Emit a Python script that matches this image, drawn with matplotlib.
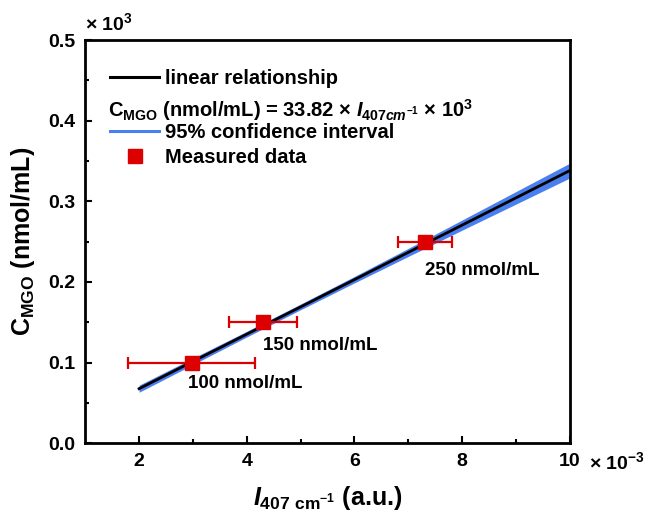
import numpy as np
import matplotlib.pyplot as plt
from matplotlib.lines import Line2D

plt.rcParams['font.family'] = ['Liberation Sans', 'DejaVu Sans']
plt.rcParams['font.weight'] = 'bold'
plt.rcParams['mathtext.fontset'] = 'custom'
plt.rcParams['mathtext.rm'] = 'Liberation Sans:bold'
plt.rcParams['mathtext.it'] = 'Liberation Sans:bold:italic'
plt.rcParams['mathtext.bf'] = 'Liberation Sans:bold'

# measured points (x in 1e-3 a.u., y in 1e3 nmol/mL)
meas_x = [2.98, 4.30, 7.31]
meas_y = [0.100, 0.150, 0.250]
meas_xerr = [1.18, 0.63, 0.50]
meas_labels = ["100 nmol/mL", "150 nmol/mL", "250 nmol/mL"]

# fitted line and 95% band
fit_x = [2, 10]
fit_y = [0.0676, 0.3382]
band_x = [2, 3, 4, 5, 6, 7, 8, 9, 10]
band_lo = [0.0632, 0.0975, 0.1318, 0.1656, 0.1989, 0.2317, 0.2643, 0.2966, 0.3290]
band_hi = [0.0720, 0.1055, 0.1388, 0.1726, 0.2069, 0.2417, 0.2769, 0.3122, 0.3474]

fig = plt.figure(figsize=(6.46, 5.22), dpi=100)
ax = fig.add_axes([0.132, 0.151, 0.75, 0.772])

ax.fill_between(band_x, band_lo, band_hi, color='#4a7ff0', lw=0)
ax.plot(fit_x, fit_y, color='black', lw=2.0)
ax.errorbar(meas_x, meas_y, xerr=meas_xerr, fmt='s', color='#dd0000',
            ms=10, ecolor='#dd0000', elinewidth=1.6, capsize=4, capthick=1.6, zorder=5)

offsets = [(-0.08, -0.026), (0.0, -0.029), (0.0, -0.036)]
for x, y, lab, (dx, dy) in zip(meas_x, meas_y, meas_labels, offsets):
    ax.text(x + dx, y + dy, lab, fontsize=13.5, fontweight='bold', va='center', ha='left')

ax.set_xlim(1, 10)
ax.set_ylim(0, 0.5)
ax.set_xticks([2, 4, 6, 8, 10])
ax.set_xticklabels(['2', '4', '6', '8', '10'])
ax.set_xticks([3, 5, 7, 9], minor=True)
ax.set_yticks([0.0, 0.1, 0.2, 0.3, 0.4, 0.5])
ax.set_yticklabels(['0.0', '0.1', '0.2', '0.3', '0.4', '0.5'])
ax.set_yticks(np.arange(0.05, 0.5, 0.1), minor=True)
ax.tick_params(which='both', direction='in', labelsize=14, width=1.5)
ax.tick_params(which='major', length=5, pad=7)
ax.tick_params(which='minor', length=3)
for s in ax.spines.values():
    s.set_linewidth(2)

ax.text(0.0, 1.042, r'$\times$ 10$^{3}$', transform=ax.transAxes, fontsize=14, ha='left', va='center')
ax.text(1.04, -0.047, r'$\times$ 10$^{-3}$', transform=ax.transAxes, fontsize=14, ha='left', va='center')

ax.set_ylabel(r'C$_{\mathrm{MGO}}$ (nmol/mL)', fontsize=18, fontweight='bold', labelpad=8)
ax.set_xlabel(r'$\mathit{I}_{\mathrm{407\ cm}^{-1}}$ (a.u.)', fontsize=18, fontweight='bold', labelpad=10)

# legend in two parts with the fit equation between them
leg_kw = dict(frameon=False, prop={'size': 14.5, 'weight': 'bold'}, handlelength=2.4,
              handletextpad=0.3, labelspacing=0.3, borderaxespad=0, borderpad=0, loc='center left')
leg1 = ax.legend([Line2D([], [], color='black', lw=2.2)], ['linear relationship'],
                 bbox_to_anchor=(0.052, 0.904), **leg_kw)
ax.add_artist(leg1)
ax.legend([Line2D([], [], color='#4a7ff0', lw=2.2),
           Line2D([], [], color='#dd0000', marker='s', ls='none', ms=10)],
          ['95% confidence interval', 'Measured data'],
          bbox_to_anchor=(0.052, 0.740), **leg_kw)
ax.text(0.047, 0.827, r'C$_{\mathrm{MGO}}$ (nmol/mL) = 33.82 $\times$ $\mathit{I}_{\mathit{407cm^{-1}}}$ $\times$ 10$^{3}$',
        transform=ax.transAxes, fontsize=14.5, ha='left', va='center')

fig.savefig('out.png', dpi=100)
